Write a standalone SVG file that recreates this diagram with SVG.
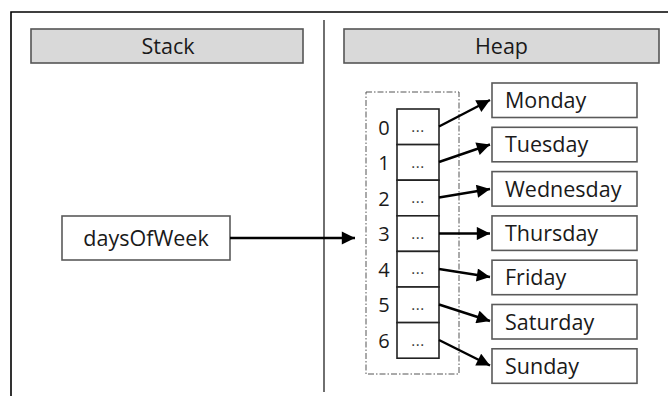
<svg xmlns="http://www.w3.org/2000/svg" width="668" height="396" viewBox="0 0 668 396">
<defs>
<style>
text{font-family:"Open Sans","Noto Sans","Liberation Sans",sans-serif;fill:#1a1a1a}
.t{font-size:21.5px}
.c{text-anchor:middle}
.hdr{fill:#d9d9d9;stroke:#555;stroke-width:1.6}
.box{fill:#fff;stroke:#5a5a5a;stroke-width:1.6}
.cell{fill:#fff;stroke:#222;stroke-width:1.6}
.idx{font-size:20px;text-anchor:middle}
.dots{font-size:15px;text-anchor:middle;fill:#333;letter-spacing:0.5px}
.conn line{stroke:#000;stroke-width:2.4;marker-end:url(#ah)}
</style>
<marker id="ah" viewBox="0 0 10 10" refX="10" refY="5" markerWidth="6" markerHeight="5.5" orient="auto" markerUnits="strokeWidth">
<path d="M0,0 L10,5 L0,10 z" fill="#000"/>
</marker>
</defs>
<rect width="668" height="396" fill="#fff"/>
<g id="frame">
<path d="M11,396 V12 H668" fill="none" stroke="#000" stroke-width="1.6"/>
<line x1="324" y1="20" x2="324" y2="392" stroke="#222" stroke-width="1.3"/>
</g>
<g id="stack-header">
<rect class="hdr" x="31" y="29" width="272" height="34"/>
<text class="t c" x="168" y="54">Stack</text>
</g>
<g id="heap-header">
<rect class="hdr" x="344" y="29" width="315" height="34"/>
<text class="t c" x="501.5" y="54">Heap</text>
</g>
<g id="daysOfWeek">
<rect class="box" x="62" y="216" width="168" height="44"/>
<text class="t c" x="146" y="245.5">daysOfWeek</text>
</g>
<g id="array">
<rect x="366" y="92" width="93" height="282" fill="none" stroke="#555" stroke-width="1" stroke-dasharray="6 2 1.5 2"/>
<rect class="cell" x="397" y="109" width="42" height="35.6"/>
<rect class="cell" x="397" y="144.6" width="42" height="35.6"/>
<rect class="cell" x="397" y="180.2" width="42" height="35.6"/>
<rect class="cell" x="397" y="215.8" width="42" height="35.6"/>
<rect class="cell" x="397" y="251.4" width="42" height="35.6"/>
<rect class="cell" x="397" y="287" width="42" height="35.6"/>
<rect class="cell" x="397" y="322.6" width="42" height="35.6"/>
<text class="idx" x="384" y="134.5">0</text>
<text class="idx" x="384" y="170">1</text>
<text class="idx" x="384" y="205.6">2</text>
<text class="idx" x="384" y="241.2">3</text>
<text class="idx" x="384" y="276.8">4</text>
<text class="idx" x="384" y="312.4">5</text>
<text class="idx" x="384" y="348">6</text>
<text class="dots" x="418" y="132">...</text>
<text class="dots" x="418" y="167.6">...</text>
<text class="dots" x="418" y="203.2">...</text>
<text class="dots" x="418" y="238.8">...</text>
<text class="dots" x="418" y="274.4">...</text>
<text class="dots" x="418" y="310">...</text>
<text class="dots" x="418" y="345.6">...</text>
</g>
<g id="monday"><rect class="box" x="492" y="83" width="145" height="34.5"/><text class="t" x="505" y="108">Monday</text></g>
<g id="tuesday"><rect class="box" x="492" y="127.3" width="145" height="34.5"/><text class="t" x="505" y="152.3">Tuesday</text></g>
<g id="wednesday"><rect class="box" x="492" y="171.6" width="145" height="34.5"/><text class="t" x="505" y="196.6">Wednesday</text></g>
<g id="thursday"><rect class="box" x="492" y="215.9" width="145" height="34.5"/><text class="t" x="505" y="240.9">Thursday</text></g>
<g id="friday"><rect class="box" x="492" y="260.2" width="145" height="34.5"/><text class="t" x="505" y="285.2">Friday</text></g>
<g id="saturday"><rect class="box" x="492" y="304.5" width="145" height="34.5"/><text class="t" x="505" y="329.5">Saturday</text></g>
<g id="sunday"><rect class="box" x="492" y="348.8" width="145" height="34.5"/><text class="t" x="505" y="373.8">Sunday</text></g>
<g id="connectors" class="conn">
<line x1="230" y1="238" x2="355" y2="238"/>
<line x1="439" y1="126.5" x2="490" y2="100"/>
<line x1="439" y1="162" x2="490" y2="144.5"/>
<line x1="439" y1="197.5" x2="490" y2="189"/>
<line x1="439" y1="233.5" x2="490" y2="233.5"/>
<line x1="439" y1="269" x2="490" y2="277"/>
<line x1="439" y1="304.5" x2="490" y2="321"/>
<line x1="439" y1="340" x2="490" y2="365.5"/>
</g>
</svg>
